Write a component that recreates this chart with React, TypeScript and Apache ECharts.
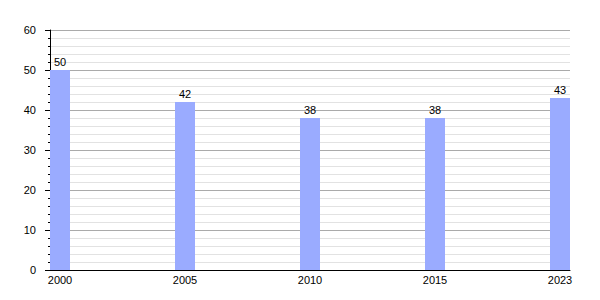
import React, { useEffect, useRef } from "react";
import * as echarts from "echarts";

const years = ["2000", "2005", "2010", "2015", "2023"];
const values = [50, 42, 38, 38, 43];
const yTicks = [0, 10, 20, 30, 40, 50, 60];

export default function App() {
  const ref = useRef<HTMLDivElement>(null);
  useEffect(() => {
    if (!ref.current) return;
    const chart = echarts.init(ref.current, null, { renderer: "svg" });
    const font = "'Liberation Sans', Arial, sans-serif";
    chart.setOption({
      animation: false,
      textStyle: { fontFamily: font },
      grid: { left: 50, right: 30, top: 30, bottom: 30, containLabel: false },
      xAxis: {
        type: "value",
        min: -0.08,
        max: years.length - 1 + 0.08,
        axisLine: { show: true, onZero: false, lineStyle: { color: "#000", width: 1 } },
        axisTick: { show: false },
        splitLine: { show: false },
        axisLabel: {
          customValues: years.map((_, i) => i),
          formatter: (v: number) => years[Math.round(v)] ?? "",
          color: "#000",
          fontSize: 11,
          fontFamily: font,
          margin: 4,
        },
      },
      yAxis: {
        type: "value",
        min: yTicks[0],
        max: yTicks[yTicks.length - 1],
        interval: 10,
        axisLine: { show: true, onZero: false, lineStyle: { color: "#000", width: 1 } },
        axisTick: { show: true, length: 5, lineStyle: { color: "#000" } },
        minorTick: { show: true, splitNumber: 5, length: 2, lineStyle: { color: "#000" } },
        splitLine: { show: true, lineStyle: { color: "#aaaaaa", width: 1 } },
        minorSplitLine: { show: true, lineStyle: { color: "#e2e2e2", width: 1 } },
        axisLabel: { color: "#000", fontSize: 11, fontFamily: font, margin: 14 },
      },
      series: [
        {
          type: "bar",
          data: values.map((v, i) => [i, v]),
          barWidth: 20,
          itemStyle: { color: "#9aabff" },
          label: {
            show: true,
            position: "top",
            distance: 3,
            color: "#000",
            fontSize: 11,
            fontFamily: font,
          },
        },
      ],
    });
    return () => chart.dispose();
  }, []);
  return (
    <div
      ref={ref}
      style={{ position: "absolute", left: 0, top: 0, width: 600, height: 300 }}
    />
  );
}
